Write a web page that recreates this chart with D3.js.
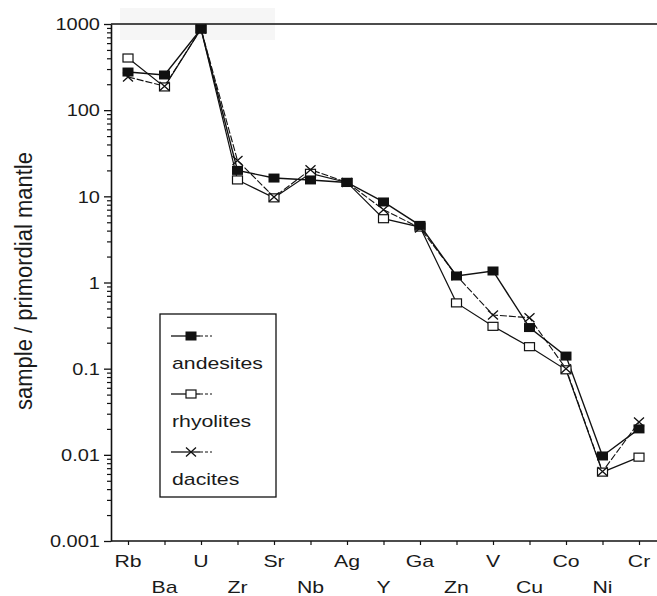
<!DOCTYPE html>
<html>
<head>
<meta charset="utf-8">
<script src="https://cdn.jsdelivr.net/npm/d3@7"></script>
<style>
  html, body { margin: 0; padding: 0; background: #fff; }
  svg { display: block; }
  text { font-family: "Liberation Sans", Arial, Helvetica, sans-serif; fill: #1a1a1a; }
</style>
</head>
<body>
<svg id="chart" width="657" height="596"></svg>
<script>
// Trace elements, ordered as on the x axis
const elements = ["Rb", "Ba", "U", "Zr", "Sr", "Nb", "Ag", "Y", "Ga", "Zn", "V", "Cu", "Co", "Ni", "Cr"];

// Sample / primordial mantle ratios
const andesites = [277, 256, 875, 20, 16.3, 15.5, 14.5, 8.6, 4.6, 1.19, 1.36, 0.30, 0.14, 0.0097, 0.020];
const rhyolites = [403, 186, 875, 15.5, 9.6, 18.5, 14.5, 5.5, 4.4, 0.58, 0.31, 0.18, 0.097, 0.0063, 0.0094];
const dacites   = [243, 190, 875, 26, 9.8, 20.4, 14.5, 7.0, 4.3, 1.2, 0.42, 0.39, 0.10, 0.0064, 0.024];

const seriesNames = ["andesites", "rhyolites", "dacites"];
const majorTicks = [0.001, 0.01, 0.1, 1, 10, 100, 1000];
const majorTickLabels = ["0.001", "0.01", "0.1", "1", "10", "100", "1000"];

const svg = d3.select("#chart");
const STRETCH = 1.25; // lettering is set wide

const x = d3.scalePoint().domain(elements).range([128, 639]);
const y = d3.scaleLog().domain([0.001, 1000]).range([541, 24]);
const axisX0 = 111, plotRight = 657;

// faint shaded band near the top edge
svg.append("rect").attr("x", 120).attr("y", 8).attr("width", 155).attr("height", 32)
  .attr("fill", "#f6f6f6");

// frame top line
svg.append("line").attr("x1", axisX0).attr("x2", plotRight)
  .attr("y1", y(1000)).attr("y2", y(1000))
  .attr("stroke", "#111").attr("stroke-width", 1.4);

// y axis: minor ticks
const minorTicks = [];
majorTicks.slice(0, -1).forEach(m => { for (let k = 2; k <= 9; k++) minorTicks.push(m * k); });
svg.append("g").attr("transform", `translate(${axisX0},0)`)
  .call(d3.axisLeft(y).tickValues(minorTicks).tickSize(4).tickSizeOuter(0).tickFormat(""))
  .call(g => g.select(".domain").remove())
  .call(g => g.selectAll("line").attr("stroke", "#111").attr("stroke-width", 1.2));

// y axis: major ticks and labels
const yAxis = svg.append("g").attr("transform", `translate(${axisX0},0)`)
  .call(d3.axisLeft(y).tickValues(majorTicks).tickSize(7).tickSizeOuter(0)
    .tickFormat((d, i) => majorTickLabels[i]));
yAxis.select(".domain").attr("stroke", "#111").attr("stroke-width", 1.6);
yAxis.selectAll("line").attr("stroke", "#111").attr("stroke-width", 1.3);
yAxis.selectAll("text")
  .attr("x", null).attr("dy", "0.36em")
  .attr("transform", `translate(-11,0) scale(${STRETCH},1)`)
  .style("font-size", "16px").style("font-family", "'Liberation Sans', Arial, sans-serif")
  .attr("fill", "#1a1a1a");

// x axis
const xAxis = svg.append("g").attr("transform", `translate(0,${y(0.001)})`)
  .call(d3.axisBottom(x).tickSize(4).tickSizeOuter(0).tickFormat(""));
xAxis.select(".domain").attr("d", `M${axisX0},0H${plotRight}`)
  .attr("stroke", "#111").attr("stroke-width", 1.5);
xAxis.selectAll("line").attr("stroke", "#111").attr("stroke-width", 1.2);

// staggered element labels
svg.append("g").selectAll("text").data(elements).join("text")
  .attr("text-anchor", "middle")
  .attr("transform", (d, i) =>
    `translate(${x(d)},${i % 2 === 0 ? 567 : 593}) scale(${STRETCH},1)`)
  .style("font-size", "17px")
  .text(d => d);

// y axis title
svg.append("text")
  .attr("text-anchor", "middle")
  .attr("transform", `translate(32,281) scale(1.12,1) rotate(-90)`)
  .style("font-size", "22px")
  .text("sample / primordial mantle");

// series lines
const line = d3.line().x((d, i) => x(elements[i])).y(d => y(d));
const seriesData = [andesites, rhyolites, dacites];
const lineStyles = [
  { w: 1.4, dash: null },
  { w: 1.2, dash: null },
  { w: 1.1, dash: "7,2" }
];
seriesData.forEach((vals, s) => {
  svg.append("path").datum(vals)
    .attr("d", line)
    .attr("fill", "none")
    .attr("stroke", "#111")
    .attr("stroke-width", lineStyles[s].w)
    .attr("stroke-dasharray", lineStyles[s].dash);
});

// marker drawers
function filledSquare(g, cx, cy) {
  g.append("rect").attr("x", cx - 5.5).attr("y", cy - 4.5).attr("width", 11).attr("height", 9)
    .attr("fill", "#111");
}
function openSquare(g, cx, cy) {
  g.append("rect").attr("x", cx - 5).attr("y", cy - 4).attr("width", 10).attr("height", 8)
    .attr("fill", "#fff").attr("stroke", "#111").attr("stroke-width", 1.2);
}
function cross(g, cx, cy) {
  g.append("path")
    .attr("d", `M${cx - 5},${cy - 4.5}L${cx + 5},${cy + 4.5}M${cx - 5},${cy + 4.5}L${cx + 5},${cy - 4.5}`)
    .attr("stroke", "#111").attr("stroke-width", 1.3).attr("fill", "none");
}
const drawers = [filledSquare, openSquare, cross];

const markers = svg.append("g");
// open squares first, then filled, then crosses on top
[1, 0, 2].forEach(s => {
  seriesData[s].forEach((v, i) => drawers[s](markers, x(elements[i]), y(v)));
});

// legend
const legend = svg.append("g");
legend.append("rect").attr("x", 160).attr("y", 314).attr("width", 116).attr("height", 183)
  .attr("fill", "#fff").attr("stroke", "#111").attr("stroke-width", 1.3);
const legendRows = [336, 394, 452];
seriesNames.forEach((name, s) => {
  const ly = legendRows[s];
  legend.append("line").attr("x1", 171).attr("x2", 200).attr("y1", ly).attr("y2", ly)
    .attr("stroke", "#111").attr("stroke-width", 1.3);
  legend.append("line").attr("x1", 200).attr("x2", 212).attr("y1", ly).attr("y2", ly)
    .attr("stroke", "#111").attr("stroke-width", 1).attr("stroke-dasharray", "3,2");
  drawers[s](legend, 191, ly);
  legend.append("text")
    .attr("transform", `translate(172,${ly + 33}) scale(${STRETCH},1)`)
    .style("font-size", "17px")
    .text(name);
});
</script>
</body>
</html>
